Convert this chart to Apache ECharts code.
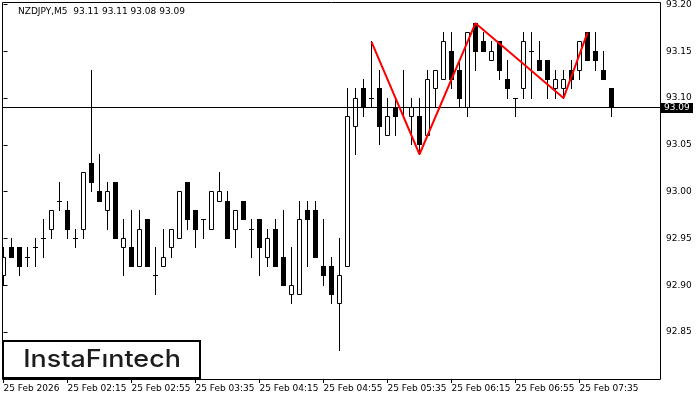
<!DOCTYPE html>
<html><head><meta charset="utf-8">
<script src="https://cdn.jsdelivr.net/npm/echarts@6/dist/echarts.min.js"></script>
<style>html,body{margin:0;padding:0;background:#fff}#c{width:700px;height:400px}</style>
</head><body><div id="c"></div>
<script>
const titleText = 'NZDJPY,M5  93.11 93.11 93.08 93.09';
const timeLabels = ['25 Feb 2026','25 Feb 02:15','25 Feb 02:55','25 Feb 03:35','25 Feb 04:15','25 Feb 04:55','25 Feb 05:35','25 Feb 06:15','25 Feb 06:55','25 Feb 07:35'];
const labelBars = [0,8,16,24,32,40,48,56,64,72];
const yTicks = [92.85,92.90,92.95,93.00,93.05,93.10,93.15,93.20];
const opens = [92.91,92.94,92.94,92.93,92.94,92.95,92.96,92.99,92.98,92.95,92.96,93.03,93.00,92.98,93.01,92.94,92.94,92.92,92.97,92.91,92.92,92.94,92.95,93.01,92.98,92.97,92.96,92.99,92.99,92.96,92.99,92.96,92.97,92.93,92.96,92.93,92.89,92.89,92.98,92.98,92.92,92.92,92.88,92.92,93.07,93.11,93.10,93.11,93.06,93.09,93.09,93.08,93.08,93.06,93.11,93.12,93.15,93.13,93.09,93.18,93.16,93.14,93.16,93.12,93.10,93.11,93.15,93.14,93.14,93.11,93.11,93.13,93.13,93.17,93.15,93.13,93.11];
const highs = [92.94,92.95,92.94,92.94,92.95,92.97,92.98,93.01,92.99,92.96,93.02,93.13,93.04,93.01,93.01,92.97,92.98,92.98,92.97,92.94,92.96,92.96,93.00,93.01,92.98,92.97,93.00,93.02,93.00,92.98,92.99,92.97,92.97,92.96,92.97,92.98,92.94,92.99,92.99,92.99,92.97,92.93,92.95,93.11,93.11,93.12,93.16,93.13,93.10,93.10,93.13,93.10,93.10,93.13,93.13,93.17,93.17,93.14,93.17,93.18,93.17,93.16,93.16,93.14,93.10,93.17,93.17,93.16,93.14,93.13,93.13,93.14,93.16,93.17,93.17,93.15,93.11];
const lows = [92.90,92.93,92.91,92.92,92.92,92.93,92.95,92.98,92.95,92.94,92.95,93.00,92.99,92.96,92.95,92.91,92.92,92.92,92.92,92.89,92.92,92.93,92.95,92.96,92.94,92.95,92.96,92.99,92.95,92.94,92.97,92.93,92.91,92.92,92.92,92.90,92.88,92.89,92.92,92.93,92.90,92.88,92.83,92.92,93.04,93.08,93.09,93.05,93.06,93.06,93.08,93.05,93.04,93.06,93.09,93.12,93.11,93.09,93.08,93.13,93.15,93.14,93.12,93.10,93.08,93.10,93.10,93.13,93.10,93.10,93.10,93.11,93.12,93.14,93.13,93.12,93.08];
const closes = [92.93,92.93,92.92,92.93,92.94,92.95,92.98,92.99,92.96,92.95,93.02,93.01,92.99,93.00,92.95,92.95,92.92,92.96,92.92,92.91,92.93,92.96,93.00,92.97,92.96,92.97,93.00,93.00,92.95,92.98,92.97,92.96,92.94,92.95,92.92,92.90,92.90,92.97,92.97,92.93,92.91,92.89,92.91,93.08,93.10,93.09,93.10,93.07,93.08,93.08,93.09,93.09,93.05,93.12,93.13,93.16,93.12,93.10,93.17,93.15,93.15,93.15,93.13,93.11,93.10,93.16,93.15,93.13,93.12,93.12,93.12,93.12,93.16,93.14,93.14,93.12,93.09];
const patternBars = [46,52,59,70,73];
const patternPrices = [93.16,93.04,93.18,93.10,93.17];
const lastPrice = 93.09;

const candleData = opens.map((o, i) => [i, o, highs[i], lows[i], closes[i]]);
const FONT = '"DejaVu Sans", sans-serif';

function renderCandle(params, api) {
  const i = api.value(0), o = api.value(1), h = api.value(2), l = api.value(3), c = api.value(4);
  const cx = Math.floor(api.coord([i, o])[0]);
  const row = p => Math.floor(api.coord([i, p])[1]);
  const rH = row(h), rL = row(l), rO = row(o), rC = row(c);
  const children = [{type: 'rect', shape: {x: cx, y: rH, width: 1, height: rL - rH + 1}, style: {fill: '#000'}}];
  const top = Math.min(rO, rC), bot = Math.max(rO, rC);
  if (c > o && bot > top) {
    children.push({type: 'rect', shape: {x: cx - 1.5, y: top + 0.5, width: 4, height: bot - top}, style: {fill: '#fff', stroke: '#000', lineWidth: 1}});
  } else {
    children.push({type: 'rect', shape: {x: cx - 2, y: top, width: 5, height: bot - top + 1}, style: {fill: '#000'}});
  }
  return {type: 'group', children};
}

function renderPriceLine(params, api) {
  const cs = params.coordSys;
  const r = Math.floor(api.coord([0, api.value(1)])[1]);
  const right = cs.x + cs.width;
  return {type: 'group', children: [
    {type: 'rect', shape: {x: cs.x, y: r, width: cs.width, height: 1}, style: {fill: '#000'}},
    {type: 'rect', shape: {x: right + 1, y: r - 4, width: 32, height: 10}, style: {fill: '#000'}},
    {type: 'text', x: right + 4, y: r + 1, style: {text: api.value(1).toFixed(2), fill: '#fff', font: '9px ' + FONT, verticalAlign: 'middle', align: 'left'}}
  ]};
}

const chart = echarts.init(document.getElementById('c'), null, {renderer: 'canvas'});
chart.setOption({
  animation: false,
  backgroundColor: '#fff',
  grid: {left: 2, right: 40, top: 2, bottom: 21, containLabel: false},
  xAxis: {
    type: 'value', min: -0.1875, max: 82.0625,
    axisLine: {show: false}, splitLine: {show: false},
    axisTick: {show: true, customValues: labelBars, length: 4, lineStyle: {color: '#000', width: 1}},
    axisLabel: {customValues: labelBars, formatter: v => timeLabels[labelBars.indexOf(Math.round(v))], align: 'left', margin: 5, color: '#000', fontSize: 9, fontFamily: FONT}
  },
  yAxis: {
    type: 'value', position: 'right', min: 92.79985, max: 93.2022, scale: true,
    axisLine: {show: false}, splitLine: {show: false},
    axisTick: {show: true, customValues: yTicks, length: 4, lineStyle: {color: '#000', width: 1}},
    axisLabel: {customValues: yTicks, formatter: v => v.toFixed(2), margin: 6, color: '#000', fontSize: 9, fontFamily: FONT}
  },
  graphic: [
    {type: 'rect', z: 100, silent: true, shape: {x: 2.5, y: 2.5, width: 658, height: 377}, style: {fill: 'transparent', stroke: '#000', lineWidth: 1}},
    {type: 'text', z: 100, left: 18, top: 7, style: {text: titleText, font: '9px ' + FONT, fill: '#000'}},
    {type: 'group', z: 100, children: [
      {type: 'rect', shape: {x: 3, y: 341, width: 197, height: 37}, style: {fill: '#fff', stroke: '#000', lineWidth: 2}},
      {type: 'text', x: 102, y: 359.5, scaleX: 1.12, style: {text: 'InstaF\u0131ntech', font: '500 24px Inter, sans-serif', fill: '#1c1c1c', align: 'center', verticalAlign: 'middle'}}
    ]}
  ],
  series: [
    {type: 'custom', renderItem: renderCandle, data: candleData, clip: true, silent: true, z: 2, encode: {x: 0, y: [1, 2, 3, 4]}},
    {type: 'custom', renderItem: renderPriceLine, data: [[0, lastPrice]], silent: true, z: 3, encode: {x: 0, y: 1}},
    {type: 'line', data: patternBars.map((b, k) => [b, patternPrices[k]]), symbol: 'none', silent: true, z: 4, lineStyle: {color: '#ff0000', width: 2}}
  ]
});
</script>
</body></html>
